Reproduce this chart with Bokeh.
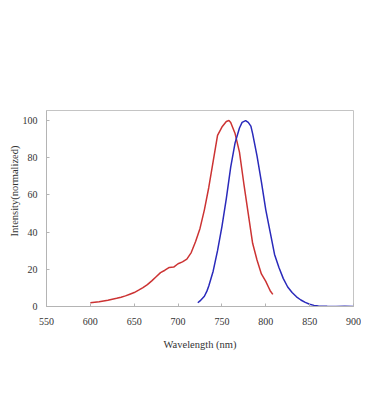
import math
from bokeh.plotting import figure
from bokeh.models import FixedTicker, Range1d, Title
from bokeh.embed import file_html
from bokeh.resources import INLINE

# Red spectrum
red_wl = [600, 605, 610, 615, 620, 625, 630, 635, 640, 645, 650, 655, 660, 665, 670, 675,
          680, 685, 690, 695, 700, 705, 710, 715, 720, 725, 730, 735, 740, 745, 750, 755,
          758, 760, 765, 770, 775, 780, 785, 790, 795, 800, 803, 805, 808]
red_val = [2.0, 2.3, 2.6, 3.0, 3.4, 3.9, 4.4, 5.0, 5.7, 6.6, 7.5, 8.8, 10.2, 11.8, 13.8, 16.0,
           18.2, 19.5, 21.0, 21.2, 23.0, 24.0, 25.5, 29.0, 35.0, 42.0, 52.0, 64.0, 78.0, 92.0, 96.5, 99.5,
           100.0, 99.0, 93.0, 83.0, 66.0, 50.0, 34.0, 25.0, 17.5, 13.5, 10.5, 8.5, 6.5]

# Blue spectrum
blue_wl = [722.5, 725, 730, 733, 735, 740, 745, 750, 755, 760, 765, 770, 773, 777, 780, 783,
           785, 790, 795, 800, 805, 810, 815, 820, 825, 830, 835, 840, 845, 850, 855, 860,
           870, 880, 890, 900]
blue_val = [2.0, 3.0, 5.5, 8.4, 11.0, 19.0, 30.0, 43.0, 58.0, 75.0, 88.0, 96.0, 99.0, 100.0, 99.0, 97.0,
            93.0, 81.0, 67.0, 52.0, 40.0, 28.0, 21.0, 15.0, 10.5, 7.5, 5.2, 3.5, 2.2, 1.2, 0.6, 0.3,
            0.1, 0.0, 0.1, 0.0]

x_ticks = [550, 600, 650, 700, 750, 800, 850, 900]
y_ticks = [0, 20, 40, 60, 80, 100]

FONT = "'Liberation Serif'"
TXT = "#333333"
GREY = "#b4b4b4"

p = figure(width=361, height=411, output_backend="svg", toolbar_location=None,
           x_range=Range1d(550, 900), y_range=Range1d(0, 105.4),
           min_border_left=46, min_border_right=8, min_border_top=110, min_border_bottom=105)
p.xgrid.visible = False
p.ygrid.visible = False
p.outline_line_color = "#c4c4c4"
p.outline_line_width = 1

p.line(red_wl, red_val, line_color="#cc3333", line_width=1.5)
p.line(blue_wl, blue_val, line_color="#2a2abb", line_width=1.5)

for ax in (p.xaxis[0], p.yaxis[0]):
    ax.axis_line_color = GREY
    ax.major_tick_line_color = GREY
    ax.major_tick_in = 3
    ax.major_tick_out = 0
    ax.minor_tick_line_color = None
    ax.major_label_text_font = FONT
    ax.major_label_text_font_size = "10px"
    ax.major_label_text_color = TXT

p.xaxis[0].ticker = FixedTicker(ticks=x_ticks)
p.yaxis[0].ticker = FixedTicker(ticks=y_ticks)
p.xaxis[0].major_label_standoff = 11
p.yaxis[0].major_label_standoff = 9
p.xaxis[0].axis_label = "Wavelength (nm)"
p.xaxis[0].axis_label_text_font = FONT
p.xaxis[0].axis_label_text_font_size = "10.5px"
p.xaxis[0].axis_label_text_font_style = "normal"
p.xaxis[0].axis_label_text_color = TXT
p.xaxis[0].axis_label_standoff = 11

ytitle = Title(text="Intensity(normalized)", align="left", offset=70,
               text_font=FONT, text_font_size="10.5px", text_font_style="normal",
               text_color=TXT, standoff=0)
p.add_layout(ytitle, "left")

open("out.html", "w").write(file_html(p, INLINE))
